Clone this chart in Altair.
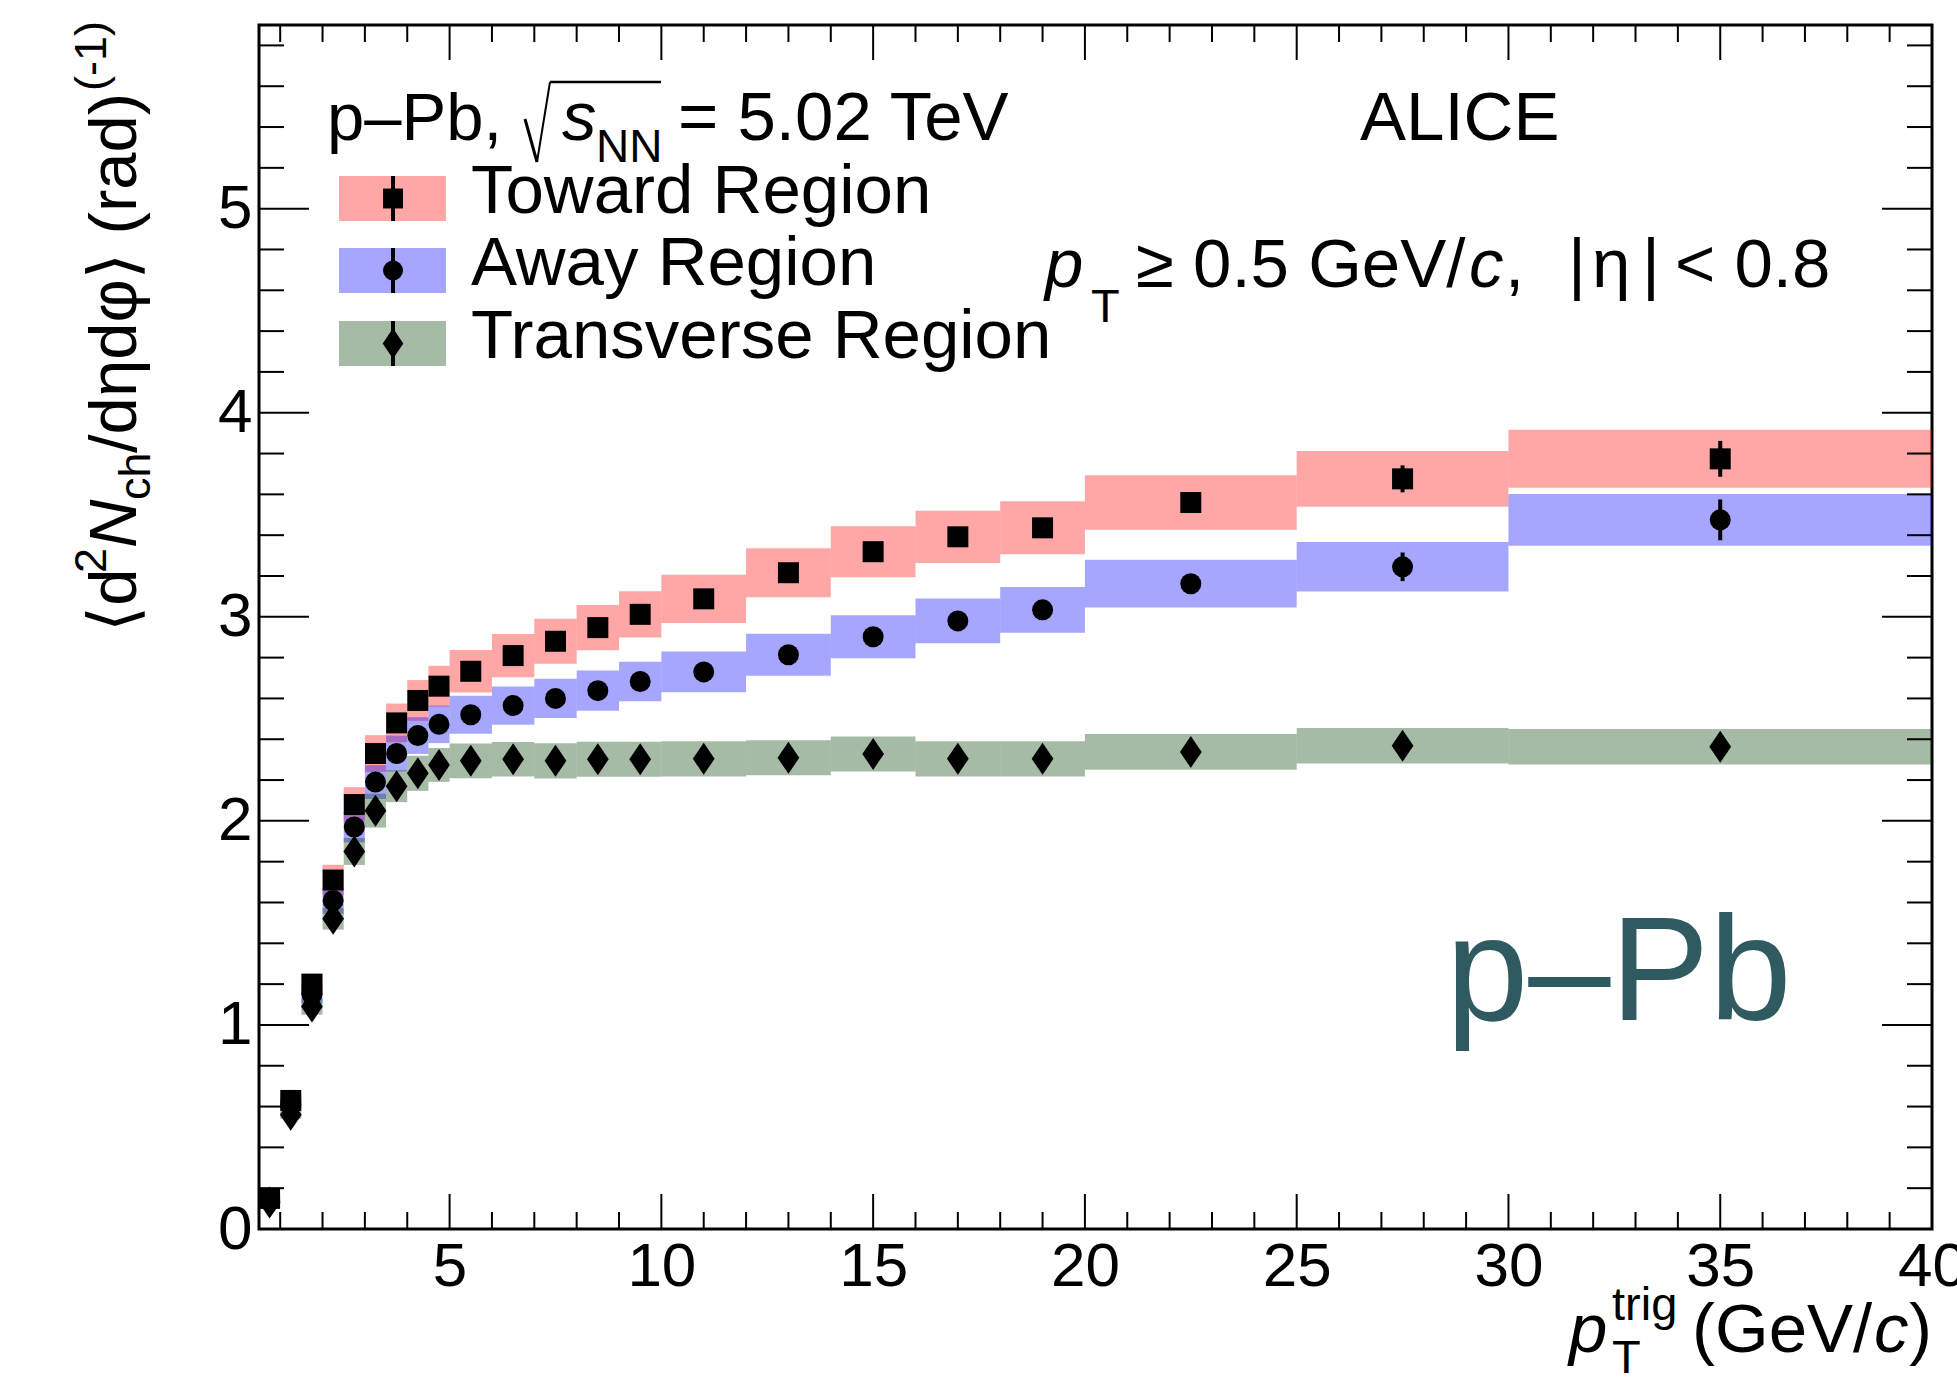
import altair as alt
import pandas as pd

# ---------------- data ----------------
pt_lo = [0.5, 1.0, 1.5, 2.0, 2.5, 3.0, 3.5, 4.0, 4.5, 5, 6, 7, 8, 9, 10, 12, 14, 16, 18, 20, 25, 30]
pt_hi = [1.0, 1.5, 2.0, 2.5, 3.0, 3.5, 4.0, 4.5, 5, 6, 7, 8, 9, 10, 12, 14, 16, 18, 20, 25, 30, 40]
pt_center = [0.75, 1.25, 1.75, 2.25, 2.75, 3.25, 3.75, 4.25, 4.75, 5.5, 6.5, 7.5, 8.5, 9.5,
             11, 13, 15, 17, 19, 22.5, 27.5, 35]

toward = [0.15, 0.63, 1.20, 1.71, 2.08, 2.33, 2.48, 2.59, 2.66, 2.733, 2.81, 2.88, 2.947, 3.012,
          3.088, 3.216, 3.319, 3.392, 3.436, 3.56, 3.676, 3.774]
toward_sys = [0.01, 0.025, 0.05, 0.075, 0.085, 0.09, 0.095, 0.10, 0.10, 0.104, 0.106, 0.11, 0.111, 0.113,
              0.118, 0.12, 0.125, 0.128, 0.13, 0.134, 0.137, 0.142]
toward_stat = [0.01, 0.01, 0.01, 0.01, 0.01, 0.01, 0.01, 0.01, 0.01, 0.01, 0.01, 0.01, 0.01, 0.01,
               0.015, 0.02, 0.02, 0.025, 0.03, 0.04, 0.066, 0.088]

away = [0.14, 0.61, 1.15, 1.61, 1.97, 2.19, 2.33, 2.418, 2.473, 2.52, 2.565, 2.60, 2.638, 2.683,
        2.73, 2.814, 2.902, 2.98, 3.034, 3.162, 3.245, 3.475]
away_sys = [0.01, 0.022, 0.045, 0.065, 0.075, 0.083, 0.088, 0.09, 0.092, 0.093, 0.094, 0.096, 0.099, 0.097,
            0.10, 0.103, 0.105, 0.11, 0.112, 0.117, 0.121, 0.127]
away_stat = [0.01, 0.01, 0.01, 0.01, 0.01, 0.01, 0.01, 0.01, 0.01, 0.01, 0.01, 0.01, 0.01, 0.01,
             0.015, 0.02, 0.02, 0.025, 0.03, 0.04, 0.07, 0.10]

trans = [0.13, 0.56, 1.09, 1.52, 1.85, 2.05, 2.17, 2.233, 2.274, 2.294, 2.302, 2.294, 2.302, 2.302,
         2.304, 2.309, 2.328, 2.304, 2.304, 2.338, 2.368, 2.363]
trans_sys = [0.01, 0.02, 0.04, 0.053, 0.066, 0.083, 0.078, 0.086, 0.083, 0.085, 0.085, 0.086, 0.086, 0.086,
             0.086, 0.086, 0.086, 0.086, 0.086, 0.088, 0.087, 0.087]
trans_stat = [0.01, 0.01, 0.01, 0.01, 0.01, 0.01, 0.01, 0.01, 0.01, 0.01, 0.01, 0.01, 0.01, 0.01,
              0.01, 0.01, 0.015, 0.015, 0.02, 0.025, 0.04, 0.05]

x_label_values = [5, 10, 15, 20, 25, 30, 35, 40]
y_label_values = [0, 1, 2, 3, 4, 5]
x_minor_ticks = [v for v in range(1, 40) if v % 5 != 0]
y_minor_ticks = [round(0.2 * i, 1) for i in range(1, 30) if i % 5 != 0]

# ---------------- layout ----------------
W, H = 1673, 1204
FONT = "Liberation Sans, Arial, Helvetica, DejaVu Sans"
TXT = 69
SUB = 46

xscale = alt.Scale(domain=[0.5, 40], nice=False, zero=False)
yscale = alt.Scale(domain=[0, 5.9], nice=False, zero=False)
xaxis = alt.Axis(values=x_label_values, labelFontSize=62, labelFont=FONT, labelColor="black",
                 labelPadding=7, ticks=False, domain=False, grid=False, labelFlush=False,
                 labelOverlap=False, title=None)
yaxis = alt.Axis(values=y_label_values, labelFontSize=62, labelFont=FONT, labelColor="black",
                 labelPadding=7, ticks=False, domain=False, grid=False, labelFlush=False,
                 labelOverlap=False, title=None)


def X(f):
    return alt.X(f, type="quantitative", scale=xscale, axis=xaxis, title=None)


def Y(f):
    return alt.Y(f, type="quantitative", scale=yscale, axis=yaxis, title=None)


def region_df(vals, sys, stat):
    d = pd.DataFrame({"lo": pt_lo, "hi": pt_hi, "pt": pt_center, "v": vals,
                      "sys": sys, "stat": stat})
    d["slo"] = d["v"] - d["sys"]
    d["shi"] = d["v"] + d["sys"]
    d["elo"] = d["v"] - d["stat"]
    d["ehi"] = d["v"] + d["stat"]
    return d


DIAMOND = "M0,-1L0.68,0L0,1L-0.68,0Z"
regions = [
    ("Toward Region", toward, toward_sys, toward_stat, "#FF0000", "square", 441),
    ("Away Region", away, away_sys, away_stat, "#0000FF", "circle", 441),
    ("Transverse Region", trans, trans_sys, trans_stat, "#003C00", DIAMOND, 1024),
]

layers = []
# systematic bands
for name, v, s, e, col, shp, sz in regions:
    d = region_df(v, s, e)
    layers.append(alt.Chart(d).mark_rect(color=col, opacity=0.35, strokeWidth=0).encode(
        x=X("lo"), x2="hi", y=Y("slo"), y2="shi"))
# statistical error bars
for name, v, s, e, col, shp, sz in regions:
    d = region_df(v, s, e)
    layers.append(alt.Chart(d).mark_rule(color="black", strokeWidth=4).encode(
        x=X("pt"), y=Y("elo"), y2="ehi"))
# markers
for name, v, s, e, col, shp, sz in regions:
    d = region_df(v, s, e)
    layers.append(alt.Chart(d).mark_point(shape=shp, size=sz, filled=True, color="black",
                                          opacity=1, strokeWidth=0).encode(
        x=X("pt"), y=Y("v")))

# ticks (inside, all four sides)
xmaj = pd.DataFrame({"t": x_label_values})
xmin_ = pd.DataFrame({"t": x_minor_ticks})
ymaj = pd.DataFrame({"t": y_label_values[1:]})
ymin_ = pd.DataFrame({"t": y_minor_ticks})
for df, L in [(xmaj, 35), (xmin_, 17)]:
    layers.append(alt.Chart(df).mark_rule(color="black", strokeWidth=2).encode(
        x=X("t"), y=alt.value(H), y2=alt.value(H - L)))
    layers.append(alt.Chart(df).mark_rule(color="black", strokeWidth=2).encode(
        x=X("t"), y=alt.value(0), y2=alt.value(L)))
for df, L in [(ymaj, 50), (ymin_, 25)]:
    layers.append(alt.Chart(df).mark_rule(color="black", strokeWidth=2).encode(
        y=Y("t"), x=alt.value(0), x2=alt.value(L)))
    layers.append(alt.Chart(df).mark_rule(color="black", strokeWidth=2).encode(
        y=Y("t"), x=alt.value(W - L), x2=alt.value(W)))

one = pd.DataFrame({"k": [0]})


def txt(s, x, y, size=TXT, style="normal", angle=0, color="black", align="left"):
    kw = dict(text=s, font=FONT, fontSize=size, fontStyle=style, color=color,
              align=align, baseline="alphabetic")
    if angle:
        kw["angle"] = angle
    return alt.Chart(one).mark_text(**kw).encode(x=alt.value(x), y=alt.value(y))


def seg(x1, y1, x2, y2, w=2.5):
    return alt.Chart(one).mark_rule(color="black", strokeWidth=w).encode(
        x=alt.value(x1), y=alt.value(y1), x2=alt.value(x2), y2=alt.value(y2))


# legend
leg_y = [173.5, 245.5, 318.5]
leg_text_y = [188, 260, 333]
for (name, v, s, e, col, shp, sz), cy, ty in zip(regions, leg_y, leg_text_y):
    layers.append(alt.Chart(one).mark_rect(color=col, opacity=0.35).encode(
        x=alt.value(80), x2=alt.value(187), y=alt.value(cy - 22.5), y2=alt.value(cy + 22.5)))
    layers.append(seg(134, cy - 22.5, 134, cy + 22.5, 4))
    layers.append(alt.Chart(one).mark_point(shape=shp, size=sz * 0.9, filled=True, color="black",
                                            opacity=1, strokeWidth=0).encode(
        x=alt.value(134), y=alt.value(cy)))
    layers.append(txt(name, 212, ty))

# header texts
layers += [
    txt("p\u2013Pb,", 68, 115, size=67),
    seg(266, 94, 278, 137, 3),
    seg(278, 137, 291, 57, 2),
    seg(291, 57, 402, 57, 2.5),
    txt("s", 303, 115, style="italic"),
    txt("NN", 337, 137, size=SUB),
    txt("= 5.02 TeV", 419, 115),
    txt("ALICE", 1101, 115),
    txt("p", 786, 262, style="italic"),
    txt("T", 832, 297, size=47),
    txt("\u2265 0.5 GeV/", 877, 262),
    txt("c", 1210, 262, style="italic"),
    txt(",", 1246, 262),
    txt("|", 1309, 262),
    txt("\u03b7", 1333, 262),
    txt("|", 1383, 262),
    txt("< 0.8", 1416, 262),
    txt("p\u2013Pb", 1187, 995, size=148, color="#2F5A5F"),
]

# x axis title
layers += [
    txt("p", 1310, 1327, style="italic"),
    txt("trig", 1353, 1295, size=47),
    txt("T", 1353, 1348, size=47),
    txt("(GeV/", 1433, 1327),
    txt("c", 1615, 1327, style="italic"),
    txt(")", 1650, 1327),
]

# y axis title (rotated)
YB = -123
layers += [
    txt("\u27e8d", YB, 607, size=67, angle=270),
    txt("2", YB - 30, 548, size=45, angle=270),
    txt("N", YB, 523, size=67, style="italic", angle=270),
    txt("ch", YB + 14, 475, size=45, angle=270),
    txt("/d\u03b7d\u03c6\u27e9 (rad)", YB, 428, size=67, angle=270),
    txt("(-1)", YB - 30, 66, size=45, angle=270),
]

chart = alt.layer(*layers).properties(
    width=W, height=H,
    padding={"left": 259, "top": 25, "right": 25, "bottom": 149},
    autosize=alt.AutoSizeParams(type="none"),
    background="white",
).configure_view(stroke="black", strokeWidth=3)

chart.save("out.html", embed_options={"renderer": "svg", "actions": False})
